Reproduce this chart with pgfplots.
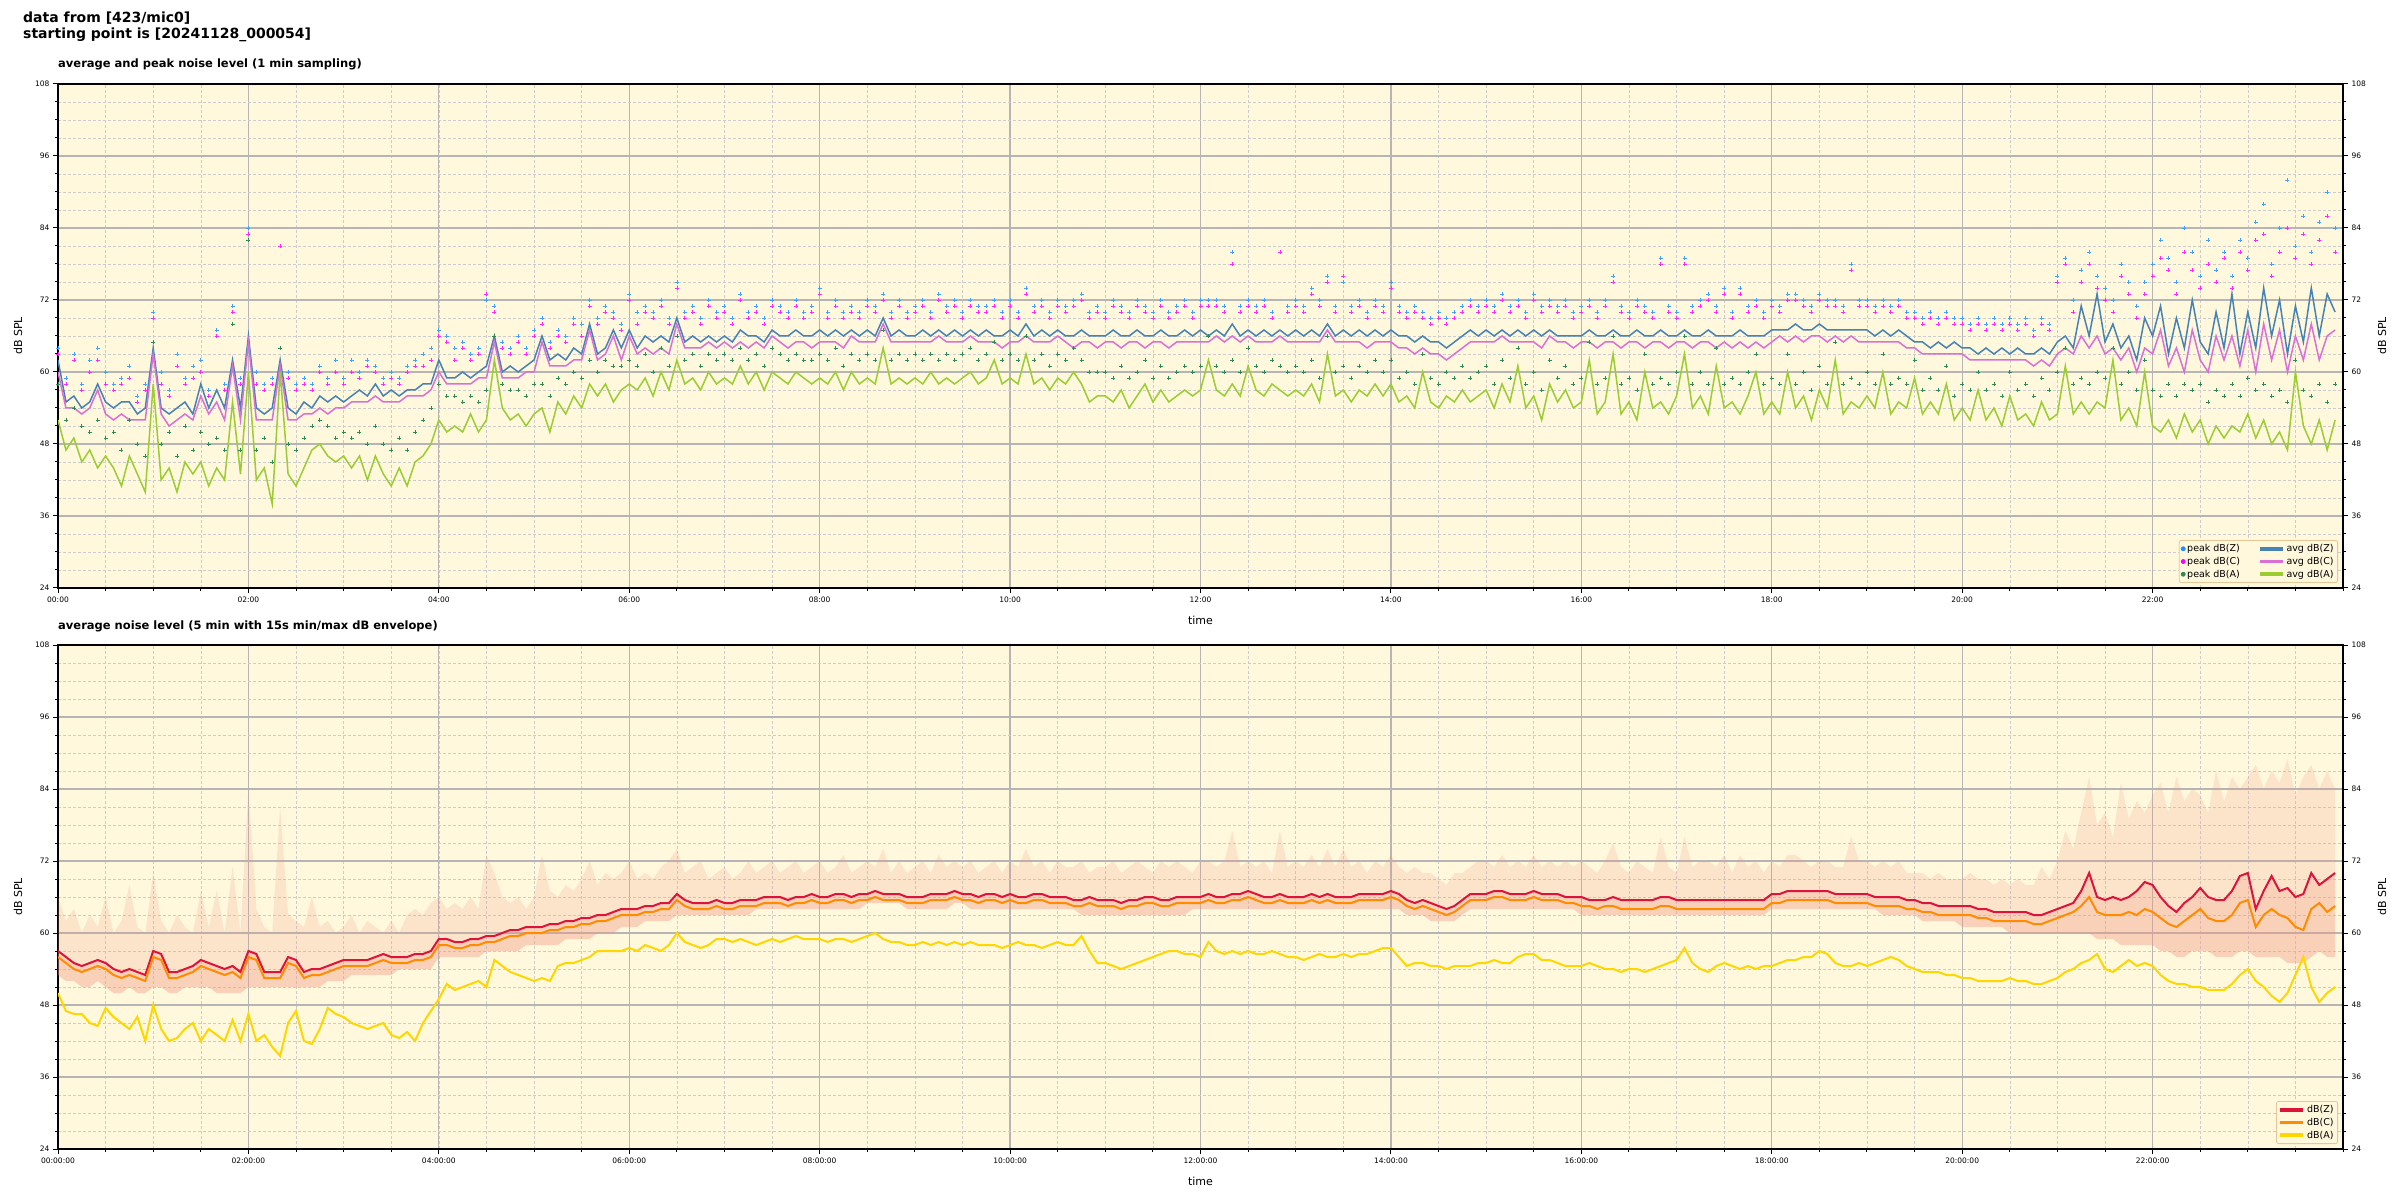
\documentclass[border=0pt]{standalone}
\usepackage{fontspec}
\setmainfont{DejaVu Sans}
\usepackage{pgfplots}
\pgfplotsset{compat=1.18}
\usepackage{pgfplotstable}

\definecolor{cornsilk}{RGB}{255,248,220}
\definecolor{cSteel}{RGB}{70,130,180}
\definecolor{cOrchid}{RGB}{218,112,214}
\definecolor{cYgreen}{RGB}{154,205,50}
\definecolor{cDodger}{RGB}{30,144,255}
\definecolor{cMag}{RGB}{255,0,255}
\definecolor{cSea}{RGB}{46,139,87}
\definecolor{cCrimson}{RGB}{220,20,60}
\definecolor{cOrange}{RGB}{255,140,0}
\definecolor{cGold}{RGB}{255,215,0}
\definecolor{cEnv}{RGB}{240,150,130}
\definecolor{cFrame}{RGB}{230,200,150}

\newcommand\tickfont{\fontsize{7.5}{9}\selectfont}
\newcommand\labfont{\fontsize{11}{13}\selectfont}

% t Z C A pZ pC pA (top, 1 min sampling) | bZ bC bA eH eL (bottom, 5 min average and envelope)
\pgfplotstableread{
t Z C A pZ pC pA bZ bC bA eH eL
0 62 60 52 64 63 58 57 56 50 66 53
5 55 54 47 59 58 52 56 55 47 62 52
10 56 54 49 63 62 54 55 54 46.5 64 52
15 54 53 45 58 57 51 54.5 53.5 46.5 60 51
20 55 54 47 62 60 50 55 54 45 63 51
25 58 57 44 64 62 52 55.5 54.5 44.5 61 52
30 55 53 46 60 58 49 55 54 47.5 66 51
35 54 52 44 58 57 50 54 53 46 60 50
40 55 53 41 59 58 47 53.5 52.5 45 62 50
45 55 52 46 61 59 52 54 53 44 68 51
50 53 52 43 56 55 48 53.5 52.5 46 61 50
55 54 52 40 58 57 46 53 52 42 60 50
60 64 63 58 70 69 65 57 56 48 70 51
65 54 53 42 60 58 48 56.5 55.5 44 62 51
70 53 51 44 57 56 50 53.5 52.5 42 60 50
75 54 52 40 63 61 46 53.5 52.5 42.5 63 50
80 55 53 45 59 58 51 54 53 44 61 51
85 53 52 43 61 59 47 54.5 53.5 45 60 51
90 58 56 45 62 60 50 55.5 54.5 42 67 51
95 54 53 41 57 56 48 55 54 44 61 51
100 57 55 44 67 66 49 54.5 53.5 43 67 50
105 54 52 42 58 57 47 54 53 42 60 50
110 62 61 55 71 70 68 54.5 53.5 45.5 71 50
115 54 52 43 59 58 47 53.5 52.5 42 60 50
120 66 65 60 84 83 82 57 56 46.5 84 51
125 54 52 42 60 58 47 56.5 55.5 42 64 51
130 53 52 44 58 57 49 53.5 52.5 43 61 51
135 54 52 38 59 58 45 53.5 52.5 41 60 51
140 62 61 60 81 81 64 53.5 52.5 39.5 81 51
145 54 52 43 60 59 48 56 55 45 63 51
150 53 52 41 58 57 47 55.5 54.5 47 62 51
155 55 53 44 59 58 49 53.5 52.5 42 61 51
160 54 53 47 58 57 51 54 53 41.5 66 51
165 56 54 48 61 60 52 54 53 44 61 51
170 55 53 46 59 58 51 54.5 53.5 47.5 62 52
175 56 54 45 62 60 49 55 54 46.5 60 52
180 55 54 46 59 58 50 55.5 54.5 46 61 52
185 56 55 44 62 60 49 55.5 54.5 45 63 53
190 57 55 46 60 59 50 55.5 54.5 44.5 60 53
195 56 55 42 62 61 48 55.5 54.5 44 62 53
200 58 56 46 61 60 51 56 55 44.5 61 53
205 56 55 43 59 58 48 56.5 55.5 45 60 53
210 57 55 41 60 59 47 56 55 43 62 53
215 56 55 44 59 58 49 56 55 42.5 60 54
220 57 56 41 61 60 47 56 55 43.5 63 54
225 57 56 45 62 61 50 56.5 55.5 42 64 54
230 58 56 46 63 61 52 56.5 55.5 45 63 54
235 58 57 48 64 62 54 57 56 47 65 54
240 62 60 52 67 66 58 59 58 49 66 56
245 59 58 50 66 65 56 59 58 51.5 64 56
250 59 58 51 64 62 56 58.5 57.5 50.5 65 56
255 60 58 50 65 64 55 58.5 57.5 51 64 56
260 59 58 53 63 62 56 59 58 51.5 66 56
265 60 59 50 64 63 55 59 58 52 64 56
270 61 59 52 72 73 57 59.5 58.5 51 73 57
275 66 65 62 71 70 66 59.5 58.5 55.5 70 57
280 60 59 54 65 64 58 60 59 54.5 66 57
285 61 59 52 64 63 57 60.5 59.5 53.5 65 57
290 60 59 53 66 65 57 60.5 59.5 53 66 57
295 61 60 51 64 63 56 61 60 52.5 64 58
300 62 60 53 67 66 58 61 60 52 66 58
305 66 65 54 69 68 58 61 60 52.5 73 58
310 62 61 50 65 64 56 61.5 60.5 52 67 58
315 63 61 55 67 66 59 61.5 60.5 54.5 66 58
320 62 61 53 66 65 58 62 61 55 68 59
325 64 62 56 69 68 60 62 61 55 67 59
330 63 62 54 68 66 59 62.5 61.5 55.5 69 59
335 68 67 58 72 71 62 62.5 61.5 56 72 59
340 63 62 56 69 68 60 63 62 57 68 60
345 64 63 58 71 70 62 63 62 57 70 60
350 67 66 55 70 69 61 63.5 62.5 57 69 60
355 64 62 57 68 67 61 64 63 57 70 61
360 67 66 58 73 72 62 64 63 57.5 72 61
365 64 63 57 70 68 61 64 63 57 69 61
370 66 64 59 71 70 63 64.5 63.5 58 70 62
375 65 63 56 70 69 60 64.5 63.5 57.5 69 62
380 66 64 60 72 71 64 65 64 57 71 62
385 65 63 57 69 68 61 65 64 58 72 62
390 69 68 62 75 74 66 66.5 65.5 60 74 63
395 65 64 58 70 69 62 65.5 64.5 58.5 70 63
400 66 64 59 71 70 63 65 64 58 71 63
405 65 64 57 69 68 61 65 64 57.5 72 63
410 66 65 60 72 71 63 65 64 58 69 63
415 65 64 58 70 69 62 65.5 64.5 59 70 63
420 66 65 59 71 70 63 65 64 59 71 63
425 65 64 58 69 68 62 65 64 58.5 69 63
430 67 65 61 73 72 64 65.5 64.5 59 70 63
435 66 64 58 70 69 62 65.5 64.5 58.5 72 63
440 66 65 60 71 70 63 65.5 64.5 58 70 64
445 65 64 57 69 68 61 66 65 58.5 71 64
450 67 66 60 72 71 64 66 65 59 72 64
455 66 65 59 71 70 63 66 65 58.5 70 64
460 66 64 58 70 69 62 65.5 64.5 59 71 64
465 67 65 60 72 71 63 66 65 59.5 72 64
470 66 65 59 70 69 62 66 65 59 70 64
475 66 64 58 71 70 62 66.5 65.5 59 71 64
480 67 65 59 74 73 63 66 65 59 72 64
485 66 65 58 70 69 62 66 65 58.5 70 64
490 67 65 60 72 71 64 66.5 65.5 59 71 64
495 66 64 57 70 69 61 66.5 65.5 59 73 64
500 67 66 60 71 70 63 66 65 58.5 70 64
505 66 65 58 70 69 62 66.5 65.5 59 71 64
510 67 65 59 72 71 63 66.5 65.5 59.5 72 65
515 66 65 58 71 70 62 67 66 60 71 65
520 69 68 64 73 72 67 66.5 65.5 59 74 65
525 66 65 58 70 69 62 66.5 65.5 58.5 70 65
530 67 65 59 72 71 63 66.5 65.5 58.5 72 65
535 66 65 58 70 69 62 66 65 58 70 64
540 66 65 59 71 70 63 66 65 58 71 64
545 67 65 58 72 71 62 66 65 58.5 72 64
550 66 65 60 70 69 63 66.5 65.5 58 70 64
555 67 66 58 73 72 62 66.5 65.5 58.5 73 64
560 66 65 59 71 70 63 66.5 65.5 58 71 64
565 67 65 58 72 71 62 67 66 58.5 72 65
570 66 65 59 70 69 63 66.5 65.5 58 71 65
575 67 66 60 72 71 64 66.5 65.5 58.5 72 64
580 66 65 58 71 70 62 66 65 58 70 64
585 67 65 59 71 70 63 66.5 65.5 58 71 64
590 66 65 62 72 71 65 66.5 65.5 58 72 64
595 66 64 58 70 69 62 66 65 57.5 70 64
600 67 65 59 72 71 63 66.5 65.5 58 72 64
605 66 65 58 70 69 62 66 65 58.5 71 64
610 68 66 63 74 73 66 66 65 58 74 64
615 66 65 58 71 70 62 66.5 65.5 58 71 64
620 67 65 59 72 71 63 66.5 65.5 57.5 72 64
625 66 65 57 70 69 61 66 65 58 70 64
630 67 66 59 72 71 63 66 65 58.5 72 64
635 66 65 58 71 70 62 66 65 58 71 64
640 66 64 60 72 71 64 65.5 64.5 58 71 64
645 67 65 58 73 72 62 65.5 64.5 59.5 72 63
650 66 65 55 70 69 60 66 65 57 70 63
655 66 64 56 71 70 60 65.5 64.5 55 71 63
660 66 65 56 70 69 60 65.5 64.5 55 71 63
665 67 65 55 72 71 59 65.5 64.5 54.5 72 63
670 66 64 57 71 70 61 65 64 54 70 63
675 66 65 54 70 69 59 65.5 64.5 54.5 71 63
680 67 65 56 72 71 60 65.5 64.5 55 72 63
685 66 64 58 71 70 62 66 65 55.5 71 63
690 66 65 55 70 69 59 66 65 56 70 63
695 67 65 57 72 71 61 65.5 64.5 56.5 72 63
700 66 64 55 70 69 59 65.5 64.5 57 71 63
705 66 65 56 71 70 60 66 65 57 72 63
710 67 65 57 72 71 61 66 65 56.5 71 63
715 66 65 56 70 69 60 66 65 56.5 70 64
720 67 65 57 72 71 61 66 65 56 72 64
725 66 65 62 72 71 66 66.5 65.5 58.5 72 64
730 67 66 57 72 71 61 66 65 57 71 64
735 66 65 56 71 70 60 66 65 56.5 72 64
740 68 66 58 80 78 62 66.5 65.5 57 77 64
745 66 65 56 71 70 60 66.5 65.5 56.5 71 64
750 67 66 61 72 71 64 67 66 57 72 64
755 66 65 57 71 70 61 66.5 65.5 56.5 71 64
760 67 65 56 72 71 60 66 65 56.5 72 64
765 66 65 58 70 69 62 66 65 57 70 64
770 67 66 57 80 80 61 66.5 65.5 56.5 77 64
775 66 65 56 71 70 60 66 65 56 71 64
780 67 65 57 72 71 61 66 65 56 72 64
785 66 65 56 71 70 60 66 65 55.5 71 64
790 67 65 58 74 73 62 66.5 65.5 56 73 64
795 66 65 55 72 71 59 66 65 56.5 71 64
800 68 67 63 76 75 66 66.5 65.5 56 74 64
805 66 65 56 71 70 60 66 65 56 71 64
810 67 65 57 75 76 61 66 65 56.5 74 64
815 66 65 55 71 70 59 66 65 56 71 64
820 67 65 57 72 71 61 66.5 65.5 56.5 72 64
825 66 64 56 70 69 60 66.5 65.5 56.5 70 64
830 67 65 58 72 71 62 66.5 65.5 57 72 64
835 66 65 56 71 70 60 66.5 65.5 57.5 71 64
840 67 65 58 75 74 62 67 66 57.5 73 64
845 66 64 55 71 70 59 66.5 65.5 56 71 64
850 66 64 56 70 69 60 65.5 64.5 54.5 70 63
855 65 63 54 71 70 58 65 64 55 71 63
860 66 64 60 70 69 63 65.5 64.5 55 70 63
865 65 63 55 69 68 59 65 64 54.5 70 62
870 65 63 54 70 69 58 64.5 63.5 54.5 69 62
875 64 62 56 69 68 60 64 63 54 68 62
880 65 63 55 70 69 59 64.5 63.5 54.5 70 62
885 66 64 57 71 70 61 65.5 64.5 54.5 70 63
890 67 65 55 72 71 59 66.5 65.5 54.5 71 64
895 66 65 56 71 70 60 66.5 65.5 55 72 64
900 67 65 57 72 71 61 66.5 65.5 55 72 64
905 66 65 54 71 70 58 67 66 55.5 71 64
910 67 66 58 73 72 62 67 66 55 73 64
915 66 65 55 71 70 59 66.5 65.5 55 71 64
920 67 65 61 72 71 64 66.5 65.5 56 72 64
925 66 65 54 70 69 58 66.5 65.5 56.5 71 64
930 67 65 56 73 72 60 67 66 56.5 73 64
935 66 64 52 71 70 57 66.5 65.5 55.5 71 64
940 67 66 58 72 71 62 66.5 65.5 55.5 72 64
945 66 65 55 71 70 59 66.5 65.5 55 71 64
950 66 65 57 72 71 61 66 65 54.5 72 64
955 66 64 54 70 69 58 66 65 54.5 71 64
960 66 65 55 71 70 59 66 64.5 54.5 72 63
965 67 65 62 72 71 65 65.5 64.5 55 71 63
970 66 64 53 70 69 58 65.5 64 54.5 70 63
975 66 65 55 72 71 59 65.5 64.5 54 72 63
980 67 65 63 76 75 66 66 64.5 54 75 63
985 66 64 53 71 70 58 65.5 64 53.5 71 63
990 66 65 55 70 69 59 65.5 64 54 70 63
995 67 65 52 72 71 57 65.5 64 54 72 63
1000 66 64 60 71 70 63 65.5 64 53.5 71 63
1005 66 65 54 70 69 58 65.5 64 54 70 63
1010 67 65 55 79 78 59 66 64.5 54.5 76 63
1015 66 64 53 71 70 58 66 64.5 55 71 63
1020 66 65 56 70 69 60 65.5 64 55.5 70 63
1025 67 65 63 79 78 66 65.5 64 57.5 76 63
1030 66 64 54 71 70 58 65.5 64 55 71 63
1035 66 65 56 72 71 60 65.5 64 54 72 63
1040 67 65 53 73 72 58 65.5 64 53.5 72 63
1045 66 64 61 71 70 64 65.5 64 54.5 71 63
1050 66 65 54 74 73 58 65.5 64 55 73 63
1055 66 64 55 70 69 59 65.5 64 54.5 70 63
1060 67 65 53 74 73 58 65.5 64 54 73 63
1065 66 64 56 71 70 60 65.5 64 54.5 71 63
1070 66 65 60 72 71 63 65.5 64 54 72 63
1075 66 64 53 70 69 58 65.5 64 54.5 70 63
1080 67 65 55 72 71 59 66.5 65 54.5 72 64
1085 67 66 53 71 70 58 66.5 65 55 71 64
1090 67 65 60 73 72 63 67 65.5 55.5 73 64
1095 68 66 54 73 72 58 67 65.5 55.5 73 64
1100 67 65 56 72 71 60 67 65.5 56 72 64
1105 67 66 52 71 70 57 67 65.5 56 71 64
1110 68 66 57 73 72 61 67 65.5 57 72 64
1115 67 65 54 72 71 58 67 65.5 56.5 72 64
1120 67 66 62 72 71 65 66.5 65 55 71 64
1125 67 65 53 71 70 58 66.5 65 54.5 71 64
1130 67 66 55 78 77 59 66.5 65 54.5 76 64
1135 67 65 54 72 71 58 66.5 65 55 72 64
1140 67 65 56 72 71 60 66.5 65 54.5 72 64
1145 66 65 54 71 70 58 66 64.5 55 71 64
1150 67 65 60 72 71 63 66 64.5 55.5 72 63
1155 66 65 53 71 70 58 66 64.5 56 71 63
1160 67 65 55 72 71 59 66 64.5 55.5 72 63
1165 66 64 54 70 69 58 65.5 64 54.5 70 63
1170 65 64 59 70 69 62 65.5 64 54 70 63
1175 65 63 53 69 68 57 65 63.5 53.5 70 62
1180 64 63 55 70 69 59 65 63.5 53.5 69 62
1185 65 63 53 69 68 57 64.5 63 53.5 70 62
1190 64 63 58 70 69 61 64.5 63 53 69 62
1195 65 63 52 69 68 56 64.5 63 53 69 62
1200 64 63 54 69 68 58 64.5 63 52.5 69 61
1205 64 62 52 68 67 57 64.5 63 52.5 70 61
1210 63 62 57 69 68 60 64 62.5 52 69 61
1215 64 62 52 68 67 57 64 62.5 52 69 61
1220 63 62 54 69 68 58 63.5 62 52 68 61
1225 64 62 51 68 67 56 63.5 62 52 69 61
1230 63 62 56 69 68 60 63.5 62 52.5 68 60
1235 64 62 52 68 67 57 63.5 62 52 69 60
1240 63 62 53 69 68 58 63.5 62 52 68 60
1245 63 61 51 67 66 56 63 61.5 51.5 68 60
1250 64 62 55 69 68 59 63 61.5 51.5 71 60
1255 63 61 52 68 67 57 63.5 62 52 69 60
1260 65 63 53 76 75 60 64 62.5 52.5 72 60
1265 66 64 61 79 78 64 64.5 63 53.5 77 60
1270 64 63 53 72 70 58 65 63.5 54 74 60
1275 71 66 55 77 75 59 67 64.5 55 80 60
1280 66 64 53 80 78 58 70 66 55.5 86 60
1285 73 66 55 76 74 60 66 63.5 56.5 78 59
1290 65 63 54 74 72 59 65.5 63 54 80 59
1295 68 64 62 72 70 64 66 63 53.5 76 59
1300 64 62 52 78 76 58 65.5 63 54.5 85 58
1305 66 64 54 75 73 60 66 63.5 55.5 79 58
1310 62 60 51 71 69 57 67 63 54.5 82 58
1315 69 64 60 75 73 62 68.5 64 55 80 58
1320 66 63 51 78 76 57 68 63.5 54.5 83 58
1325 71 67 50 82 79 56 66 62.5 53 85 57
1330 63 61 52 79 77 58 64.5 61.5 52 80 57
1335 69 64 49 75 73 56 63.5 61 51.5 86 56
1340 64 60 53 84 80 58 65 62 51.5 82 56
1345 72 67 50 80 77 57 66 63 51 84 57
1350 65 62 52 76 74 58 67.5 64 51 83 57
1355 63 60 48 82 78 55 66 62.5 50.5 80 57
1360 70 66 51 77 75 57 65.5 62 50.5 87 56
1365 64 62 49 80 79 56 65.5 62 50.5 82 56
1370 73 66 51 76 74 58 67 63 51.5 86 56
1375 63 61 50 82 80 56 69.5 65 53 84 57
1380 70 67 53 79 77 59 70 65.5 54 86 57
1385 64 60 49 85 82 57 64 61 52 88 56
1390 74 68 52 88 83 58 67 63 51 84 56
1395 66 62 48 78 76 56 69.5 64 49.5 87 56
1400 72 67 50 84 80 57 67 63 48.5 85 56
1405 63 60 47 92 84 55 67.5 62.5 50 89 55
1410 71 66 60 81 79 62 66 61 53 83 55
1415 65 62 51 86 83 57 66.5 60.5 56 86 55
1420 74 68 48 80 78 56 70 64 51 88 56
1425 66 62 52 85 82 58 68 65 48.5 84 57
1430 73 66 47 90 86 55 69 63.5 50 87 56
1435 70 67 52 84 80 58 70 64.5 51 84 56
}\noise

\pgfplotsset{
  longline/.style={legend image code/.code={\draw[##1,line width=3.5pt] (0pt,0pt) -- (23pt,0pt);}},
  base/.style={
    scale only axis, width=2285pt, height=504pt, anchor=south west,
    xmin=0, xmax=1440, ymin=24, ymax=108,
    xtick={0,120,...,1320}, minor xtick={0,30,...,1440},
    ytick={24,36,...,108}, minor ytick={24,27,...,108},
    tick align=outside, major tick length=5pt, minor tick length=3pt,
    tick style={black, line width=1pt},
    tick label style={font=\tickfont},
    /pgf/number format/assume math mode=true,
    axis line style={black, line width=1.3pt},
  },
  mainax/.style={
    base,
    axis background/.style={fill=cornsilk},
    grid=both,
    major grid style={draw=gray!58, line width=1.2pt, solid},
    minor grid style={draw=gray!40, line width=0.6pt, dash pattern=on 3pt off 2pt},
    xtick pos=left, ytick pos=left,
    every axis x label/.style={at={(axis description cs:0.5,0)}, anchor=center, yshift=-32pt, font=\labfont},
    every axis y label/.style={at={(axis description cs:-0.0175,0.5)}, rotate=90, anchor=center, font=\labfont},
    xlabel={time}, ylabel={dB SPL},
    title style={at={(axis description cs:0,1)}, anchor=base west, yshift=10pt, inner sep=0pt, font=\bfseries\fontsize{11.5}{13}\selectfont},
    legend cell align=left,
  },
  rightax/.style={
    base,
    axis x line=none, axis y line*=right,
    every axis y label/.style={at={(axis description cs:1.0171,0.5)}, rotate=90, anchor=center, font=\labfont},
    ylabel={dB SPL},
  },
}

\begin{document}
\begin{tikzpicture}
\path[use as bounding box] (0pt,0pt) rectangle (2400pt,1200pt);

\node[anchor=base west, inner sep=0pt, font=\bfseries\fontsize{14}{16}\selectfont] at (23pt,1177pt) {data from [423/mic0]};
\node[anchor=base west, inner sep=0pt, font=\bfseries\fontsize{14}{16}\selectfont] at (23pt,1161pt) {starting point is [20241128\_000054]};

% ---------- top ----------
\begin{axis}[mainax, at={(58pt,612pt)},
  xticklabels={00:00,02:00,04:00,06:00,08:00,10:00,12:00,14:00,16:00,18:00,20:00,22:00},
  title={average and peak noise level (1 min sampling)},
  legend columns=2,
  legend style={at={(1,0)}, anchor=south east, xshift=-5pt, yshift=5pt,
    draw=cFrame, fill=cornsilk, rounded corners=2pt, line width=0.8pt,
    font=\fontsize{9.5}{11}\selectfont, inner sep=2pt,
    /tikz/every even column/.append style={column sep=16pt}},
]
\addlegendimage{only marks, mark=*, mark size=2pt, cDodger}\addlegendentry{peak dB(Z)}
\addlegendimage{cSteel, longline}\addlegendentry{avg dB(Z)}
\addlegendimage{only marks, mark=*, mark size=2pt, cMag}\addlegendentry{peak dB(C)}
\addlegendimage{cOrchid, longline}\addlegendentry{avg dB(C)}
\addlegendimage{only marks, mark=*, mark size=2pt, cSea}\addlegendentry{peak dB(A)}
\addlegendimage{cYgreen, longline}\addlegendentry{avg dB(A)}

\addplot[forget plot, only marks, mark=+, mark size=2pt, cDodger!85, mark options={line width=0.7pt}] table[x=t, y=pZ] {\noise};
\addplot[forget plot, only marks, mark=+, mark size=2pt, cMag!85, mark options={line width=0.7pt}] table[x=t, y=pC] {\noise};
\addplot[forget plot, only marks, mark=+, mark size=2pt, cSea, mark options={line width=0.7pt}] table[x=t, y=pA] {\noise};
\addplot[forget plot, cSteel, line width=1.5pt] table[x=t, y=Z] {\noise};
\addplot[forget plot, cOrchid, line width=1.5pt] table[x=t, y=C] {\noise};
\addplot[forget plot, cYgreen, line width=1.5pt] table[x=t, y=A] {\noise};
\end{axis}
\begin{axis}[rightax, at={(58pt,612pt)}]
\addplot[forget plot, draw=none] table[x=t, y=Z] {\noise};
\end{axis}

% ---------- bottom: frame, grid and envelope ----------
\begin{axis}[mainax, at={(58pt,51pt)}, stack plots=y,
  xticklabels={00:00:00,02:00:00,04:00:00,06:00:00,08:00:00,10:00:00,12:00:00,14:00:00,16:00:00,18:00:00,20:00:00,22:00:00},
  title={average noise level (5 min with 15s min/max dB envelope)},
]
\addplot[forget plot, draw=none] table[x=t, y=eL] {\noise};
\addplot[forget plot, draw=none, fill=cEnv, fill opacity=0.4] table[x=t, y expr=\thisrow{bZ}-\thisrow{eL}] {\noise} \closedcycle;
\addplot[forget plot, draw=none, fill=cEnv, fill opacity=0.2] table[x=t, y expr=\thisrow{eH}-\thisrow{bZ}] {\noise} \closedcycle;
\end{axis}
% ---------- bottom: lines ----------
\begin{axis}[base, hide axis, at={(58pt,51pt)},
  legend cell align=left,
  legend style={at={(1,0)}, anchor=south east, xshift=-5pt, yshift=5pt,
    draw=cFrame, fill=cornsilk, rounded corners=2pt, line width=0.8pt,
    font=\fontsize{9.5}{11}\selectfont, inner sep=2pt},
]
\addlegendimage{cCrimson, longline}\addlegendentry{dB(Z)}
\addlegendimage{cOrange, longline}\addlegendentry{dB(C)}
\addlegendimage{cGold, longline}\addlegendentry{dB(A)}
\addplot[forget plot, cCrimson, line width=2pt] table[x=t, y=bZ] {\noise};
\addplot[forget plot, cOrange, line width=2pt] table[x=t, y=bC] {\noise};
\addplot[forget plot, cGold, line width=2pt] table[x=t, y=bA] {\noise};
\end{axis}
\begin{axis}[rightax, at={(58pt,51pt)}]
\addplot[forget plot, draw=none] table[x=t, y=bZ] {\noise};
\end{axis}
\end{tikzpicture}
\end{document}
